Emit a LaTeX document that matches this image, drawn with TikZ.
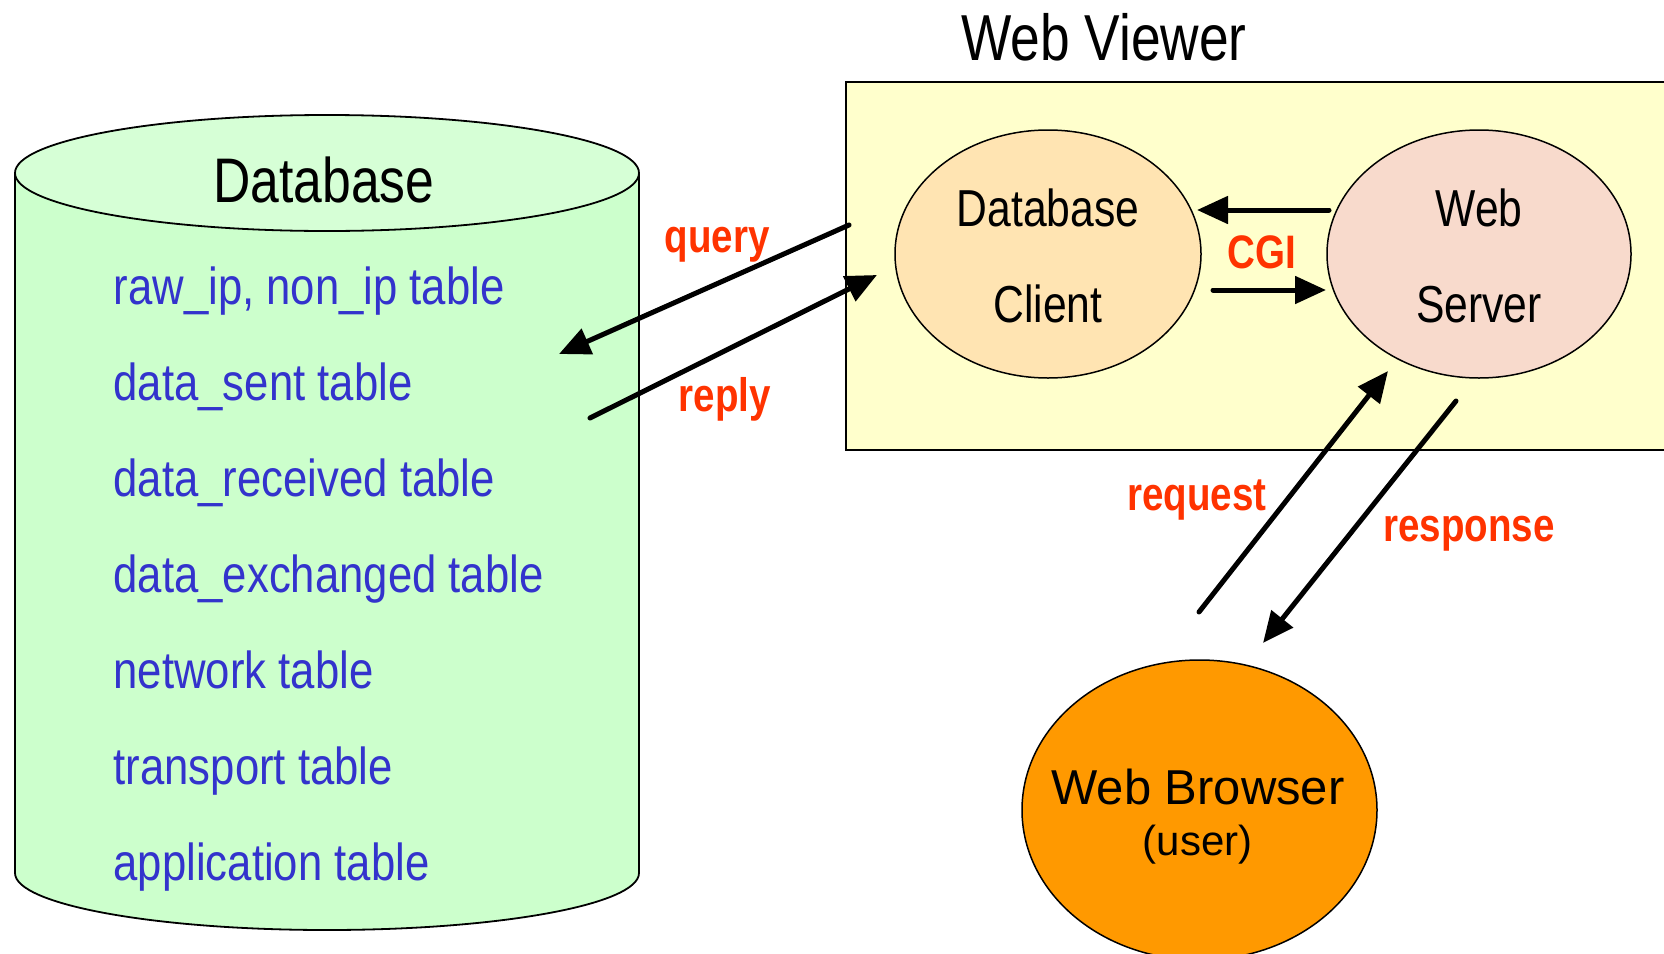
\documentclass[tikz,border=0pt]{standalone}
\usepackage{fontspec}
\setmainfont{Liberation Sans}
\newfontfamily\narrowfont[FakeStretch=0.82]{Liberation Sans}
\newfontfamily\listfont[FakeStretch=0.84]{Liberation Sans}
\usetikzlibrary{arrows.meta,shapes.geometric}

\definecolor{dbbody}{RGB}{204,255,204}
\definecolor{dbtop}{RGB}{214,255,214}
\definecolor{viewerbg}{RGB}{255,255,204}
\definecolor{clientfill}{RGB}{255,228,178}
\definecolor{serverfill}{RGB}{248,218,204}
\definecolor{browserfill}{RGB}{255,153,0}
\definecolor{tableblue}{RGB}{51,51,204}
\definecolor{labelred}{RGB}{255,51,0}

\tikzset{
  outline/.style={draw=black, line width=1.8pt},
  bubble/.style={ellipse, draw=black, line width=1.5pt, inner sep=0pt},
  tabletext/.style={anchor=base west, text=tableblue, inner sep=0pt,
    font=\listfont\fontsize{52}{60}\selectfont},
  bigtext/.style={anchor=base, inner sep=0pt,
    font=\narrowfont\fontsize{52}{60}\selectfont},
  redlabel/.style={anchor=base, inner sep=0pt, text=labelred,
    font=\narrowfont\bfseries\fontsize{47}{54}\selectfont},
  flow/.style={line width=5pt, line cap=round,
    -{Triangle[length=31pt,width=27pt]}}
}

\begin{document}
\begin{tikzpicture}[x=1pt,y=1pt]
\useasboundingbox (0,0) rectangle (1664,-953);
\clip (0,0) rectangle (1664,-953);
\fill[white] (0,0) rectangle (1664,-953);

% ---- database cylinder ----
\coordinate (db) at (327,-520);
\filldraw[outline, fill=dbbody]
  (15,-173) -- (15,-873) arc[start angle=180, end angle=360, x radius=312, y radius=57]
  -- (639,-173) -- cycle;
\filldraw[outline, fill=dbtop] (327,-173) ellipse[x radius=312, y radius=58];
\node[bigtext, font=\narrowfont\fontsize{63}{70}\selectfont] (dbtitle) at (324,-202) {Database};

\node[tabletext] (t1) at (113.5,-304) {raw\_ip, non\_ip table};
\node[tabletext] (t2) at (113.5,-400) {data\_sent table};
\node[tabletext] (t3) at (113.5,-496) {data\_received table};
\node[tabletext] (t4) at (113.5,-592) {data\_exchanged table};
\node[tabletext] (t5) at (113.5,-688) {network table};
\node[tabletext] (t6) at (113.5,-784) {transport table};
\node[tabletext] (t7) at (113.5,-880) {application table};

% ---- web viewer box ----
\filldraw[outline, fill=viewerbg] (846,-82) rectangle (1720,-450);
\node[bigtext, font=\narrowfont\fontsize{65}{72}\selectfont] (vtitle) at (1104,-60.5) {Web Viewer};

\node[bubble, fill=clientfill, minimum width=306pt, minimum height=248pt] (client) at (1048,-254) {};
\node[bigtext] (clientA) at (1048,-226) {Database};
\node[bigtext] (clientB) at (1048,-322) {Client};

\node[bubble, fill=serverfill, minimum width=304pt, minimum height=248pt] (server) at (1479,-254) {};
\node[bigtext] (serverA) at (1479,-226) {Web};
\node[bigtext] (serverB) at (1479,-322) {Server};

% ---- browser ----
\node[bubble, fill=browserfill, minimum width=355pt, minimum height=300pt] (browser) at (1199.5,-810) {};
\node[anchor=base, inner sep=0pt, font=\fontsize{49}{56}\selectfont] (browserA) at (1198,-804) {Web Browser};
\node[anchor=base, inner sep=0pt, font=\fontsize{42}{48}\selectfont] (browserB) at (1197.5,-855.5) {(user)};

% ---- arrow end points ----
\coordinate (qS) at (849,-225);
\coordinate (qE) at (559,-354);
\coordinate (rS) at (590,-418);
\coordinate (rE) at (877,-275);
\coordinate (cgiLS) at (1329,-210);
\coordinate (cgiLE) at (1197,-210);
\coordinate (cgiRS) at (1213,-290);
\coordinate (cgiRE) at (1326,-290);
\coordinate (reqS) at (1199,-612);
\coordinate (reqE) at (1388,-371);
\coordinate (resS) at (1456,-401);
\coordinate (resE) at (1263,-643);

\draw[flow] (qS) -- (qE);
\draw[flow] (rS) -- (rE);
\draw[flow] (cgiLS) -- (cgiLE);
\draw[flow] (cgiRS) -- (cgiRE);
\draw[flow] (reqS) -- (reqE);
\draw[flow] (resS) -- (resE);

% ---- arrow labels ----
\node[redlabel] (lquery) at (717,-252) {query};
\node[redlabel] (lreply) at (725,-411.7) {reply};
\node[redlabel] (lcgi) at (1262,-268) {CGI};
\node[redlabel] (lreq) at (1197,-510) {request};
\node[redlabel] (lres) at (1469,-541) {response};
\end{tikzpicture}
\end{document}
